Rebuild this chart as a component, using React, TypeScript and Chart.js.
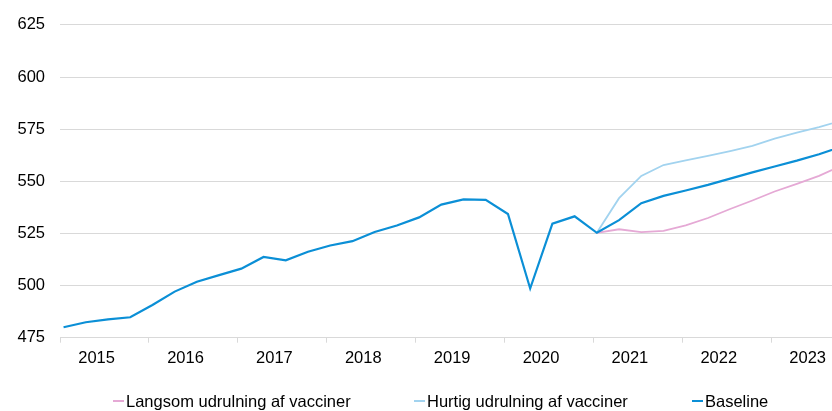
import React, { useEffect, useRef } from "react";
import { Chart, registerables } from "chart.js";

Chart.register(...registerables);

const yearLabels = ["2015", "2016", "2017", "2018", "2019", "2020", "2021", "2022", "2023"];
const quarters = yearLabels.flatMap((y) => ["K1", "K2", "K3", "K4"].map((q) => `${y}${q}`));

const baseline = [
  480, 482.4, 483.8, 484.8, 490.7, 497.1, 501.8, 505, 508.1, 513.7, 512.1, 516.2,
  519.2, 521.3, 525.7, 528.8, 532.7, 538.8, 541.3, 541.1, 534.3, 498.6, 529.7, 533.2,
  525.3, 531.4, 539.5, 543, 545.6, 548.3, 551.3, 554.3, 557.1, 559.9, 563, 566.5,
];
const hurtig = [
  ...Array(24).fill(null),
  525.3, 541.9, 552.6, 557.8, 560, 562.2, 564.5, 567, 570.5, 573.3, 576, 579,
];
const langsom = [
  ...Array(24).fill(null),
  525.3, 527, 525.6, 526.2, 528.9, 532.4, 536.7, 540.8, 545.1, 548.8, 552.6, 557.5,
];
const yTicks = [475, 500, 525, 550, 575, 600, 625];

const seriesNames = ["Langsom udrulning af vacciner", "Hurtig udrulning af vacciner", "Baseline"];
const colors = ["#E5A9D5", "#A2D3EF", "#0B8FD6"];

const toXY = (arr: (number | null)[]) => arr.map((v, i) => ({ x: i, y: v, q: quarters[i] }));

const FONT = "Arial, 'Liberation Sans', sans-serif";

export default function App() {
  const ref = useRef<HTMLCanvasElement | null>(null);
  useEffect(() => {
    if (!ref.current) return;
    const shift = -0.16;
    const legendPlugin = {
      id: "customLegend",
      afterDraw(chart: any) {
        const ctx = chart.ctx;
        const xs = [113, 414, 692];
        ctx.save();
        ctx.font = `16.5px ${FONT}`;
        ctx.textBaseline = "middle";
        ctx.fillStyle = "#000";
        seriesNames.forEach((name, i) => {
          const x = xs[i];
          const y = 401;
          ctx.strokeStyle = colors[i];
          ctx.lineWidth = 2;
          ctx.beginPath();
          ctx.moveTo(x, y);
          ctx.lineTo(x + 11, y);
          ctx.stroke();
          ctx.fillText(name, x + 13, y + 1.5);
        });
        ctx.restore();
      },
    };
    const chart = new Chart(ref.current, {
      type: "line",
      data: {
        datasets: [
          {
            label: seriesNames[2],
            data: toXY(baseline),
            borderColor: colors[2],
            borderWidth: 2.2,
            pointRadius: 0,
            tension: 0,
          },
          {
            label: seriesNames[1],
            data: toXY(hurtig),
            borderColor: colors[1],
            borderWidth: 1.8,
            pointRadius: 0,
            tension: 0,
          },
          {
            label: seriesNames[0],
            data: toXY(langsom),
            borderColor: colors[0],
            borderWidth: 1.8,
            pointRadius: 0,
            tension: 0,
          },
        ],
      },
      options: {
        responsive: false,
        animation: false,
        layout: { padding: { top: 21, left: 0, right: 0, bottom: 0 } },
        plugins: { legend: { display: false }, tooltip: { enabled: false } },
        scales: {
          x: {
            type: "linear",
            min: shift,
            max: shift + 772 / 22.22,
            afterBuildTicks: (scale: any) => {
              scale.ticks = yearLabels.map((_, k) => ({ value: k * 4 + shift }));
            },
            afterFit: (scale: any) => {
              scale.height = 411 - 337.7;
            },
            grid: {
              display: true,
              drawOnChartArea: false,
              drawTicks: true,
              tickLength: 5,
              color: "#d9d9d9",
            },
            border: { display: true, color: "#d9d9d9" },
            ticks: {
              autoSkip: false,
              maxRotation: 0,
              minRotation: 0,
              labelOffset: 1.66 * 22.06,
              padding: 6,
              color: "#000",
              font: { family: FONT, size: 16.5 },
              callback: (_v: any, i: number) => yearLabels[i],
            },
          },
          y: {
            min: 475,
            max: 625,
            afterBuildTicks: (scale: any) => {
              scale.ticks = yTicks.map((v) => ({ value: v }));
            },
            afterFit: (scale: any) => {
              scale.width = 60;
            },
            grid: { color: "#d9d9d9", drawTicks: false, lineWidth: 1 },
            border: { display: false },
            ticks: {
              padding: 15,
              color: "#000",
              font: { family: FONT, size: 16.5 },
            },
          },
        },
      },
      plugins: [legendPlugin],
    } as any);
    return () => chart.destroy();
  }, []);
  return (
    <div style={{ position: "absolute", left: 0, top: 0, width: 832, height: 411, background: "#fff" }}>
      <canvas ref={ref} width={832} height={411} style={{ display: "block" }} />
    </div>
  );
}
